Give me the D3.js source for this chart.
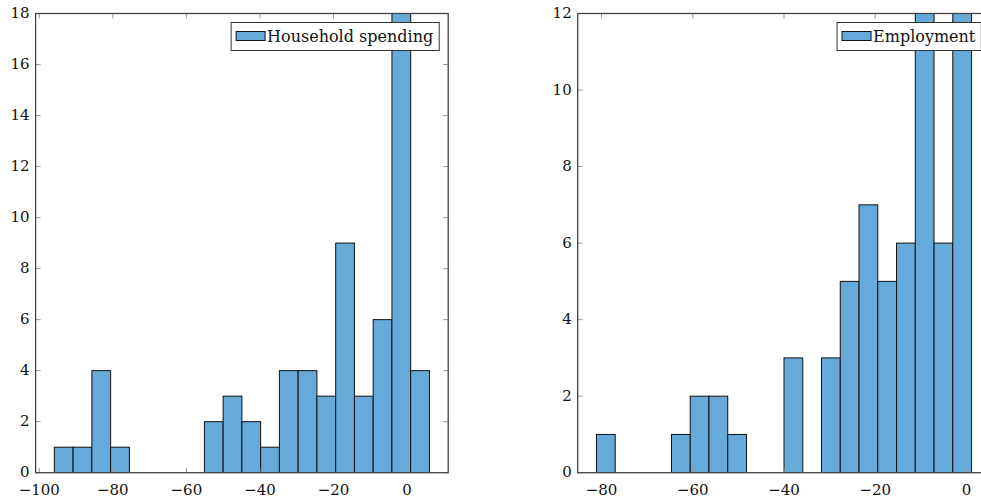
<!DOCTYPE html>
<html>
<head>
<meta charset="utf-8">
<script src="https://cdn.jsdelivr.net/npm/d3@7"></script>
<style>
  body { margin: 0; background: #fff; }
  svg { display: block; font-family: "DejaVu Serif", serif; }
</style>
</head>
<body>
<svg id="chart" width="981" height="498"></svg>
<script>
// bin edges and counts
const spendingEdges = [-95.9, -90.8, -85.7, -80.6, -75.5, -70.4, -65.3, -60.2, -55.1, -50.0,
  -44.9, -39.8, -34.7, -29.6, -24.5, -19.4, -14.3, -9.2, -4.1, 1.0, 6.1];
const spendingCounts = [1, 1, 4, 1, 0, 0, 0, 0, 2, 3, 2, 1, 4, 4, 3, 9, 3, 6, 18, 4];
const spendingXTicks = [-100, -80, -60, -40, -20, 0];
const spendingYTicks = [0, 2, 4, 6, 8, 10, 12, 14, 16, 18];

const employmentEdges = [-81.1, -76.99, -72.88, -68.77, -64.66, -60.55, -56.44, -52.33, -48.22, -44.11,
  -40.0, -35.89, -31.78, -27.67, -23.56, -19.45, -15.34, -11.23, -7.12, -3.01, 1.1];
const employmentCounts = [1, 0, 0, 0, 1, 2, 2, 1, 0, 0, 3, 0, 3, 5, 7, 5, 6, 12, 6, 12];
const employmentXTicks = [-80, -60, -40, -20, 0];
const employmentYTicks = [0, 2, 4, 6, 8, 10, 12];

const barFill = '#65aad8';
const svg = d3.select('#chart');

function drawHist(opts) {
  const { edges, counts, xTicks, yTicks, yMax, left, right, top, bottom, label } = opts;
  const span = edges[edges.length - 1] - edges[0];
  const x = d3.scaleLinear()
    .domain([edges[0] - 0.05 * span, edges[edges.length - 1] + 0.05 * span])
    .range([left, right]);
  const y = d3.scaleLinear().domain([0, yMax]).range([bottom, top]);

  const g = svg.append('g');
  const clipId = 'clip' + Math.round(left);
  svg.append('clipPath').attr('id', clipId)
    .append('rect').attr('x', left).attr('y', top).attr('width', right - left).attr('height', bottom - top);

  // bars
  g.append('g').attr('clip-path', `url(#${clipId})`)
    .selectAll('rect')
    .data(counts)
    .join('rect')
    .attr('x', (d, i) => x(edges[i]))
    .attr('width', (d, i) => x(edges[i + 1]) - x(edges[i]))
    .attr('y', d => y(d))
    .attr('height', d => y(0) - y(d))
    .attr('fill', barFill)
    .attr('stroke', '#111')
    .attr('stroke-width', 1);

  // ticks, pointing inward on all four sides
  const tk = g.append('g').attr('stroke', '#999').attr('stroke-width', 1);
  xTicks.forEach(t => {
    tk.append('line').attr('x1', x(t)).attr('x2', x(t)).attr('y1', bottom).attr('y2', bottom - 5);
    tk.append('line').attr('x1', x(t)).attr('x2', x(t)).attr('y1', top).attr('y2', top + 5);
  });
  yTicks.forEach(t => {
    tk.append('line').attr('x1', left).attr('x2', left + 5).attr('y1', y(t)).attr('y2', y(t));
    tk.append('line').attr('x1', right).attr('x2', right - 5).attr('y1', y(t)).attr('y2', y(t));
  });

  // frame
  g.append('rect')
    .attr('x', left).attr('y', top)
    .attr('width', right - left).attr('height', bottom - top)
    .attr('fill', 'none').attr('stroke', '#444').attr('stroke-width', 1.3);

  // tick labels
  g.append('g').selectAll('text')
    .data(xTicks)
    .join('text')
    .attr('x', d => x(d))
    .attr('y', bottom + 22)
    .attr('text-anchor', 'middle')
    .attr('font-size', 15)
    .attr('fill', '#111')
    .text(d => d < 0 ? '\u2212' + Math.abs(d) : d);
  g.append('g').selectAll('text')
    .data(yTicks)
    .join('text')
    .attr('x', left - 6)
    .attr('y', d => y(d))
    .attr('dy', '0.3em')
    .attr('text-anchor', 'end')
    .attr('font-size', 15)
    .attr('fill', '#111')
    .text(d => d);

  // legend in the top right corner
  const lg = g.append('g');
  const txt = lg.append('text')
    .attr('font-size', 16)
    .attr('fill', '#111')
    .text(label);
  const tw = txt.node().getComputedTextLength();
  const boxW = 5 + 29 + 2 + tw + 6;
  const bx = right - 9 - boxW, by = top + 9;
  lg.insert('rect', 'text')
    .attr('x', bx).attr('y', by).attr('width', boxW).attr('height', 28)
    .attr('fill', '#fff').attr('stroke', '#333').attr('stroke-width', 1);
  lg.append('rect')
    .attr('x', bx + 5).attr('y', by + 9).attr('width', 29).attr('height', 9)
    .attr('fill', barFill).attr('stroke', '#111').attr('stroke-width', 1);
  txt.attr('x', bx + 36).attr('y', by + 19);
}

drawHist({
  edges: spendingEdges, counts: spendingCounts,
  xTicks: spendingXTicks, yTicks: spendingYTicks, yMax: 18,
  left: 35.6, right: 448.2, top: 13.5, bottom: 472.7,
  label: 'Household spending'
});

drawHist({
  edges: employmentEdges, counts: employmentCounts,
  xTicks: employmentXTicks, yTicks: employmentYTicks, yMax: 12,
  left: 577.7, right: 990.3, top: 13.5, bottom: 472.7,
  label: 'Employment'
});
</script>
</body>
</html>
